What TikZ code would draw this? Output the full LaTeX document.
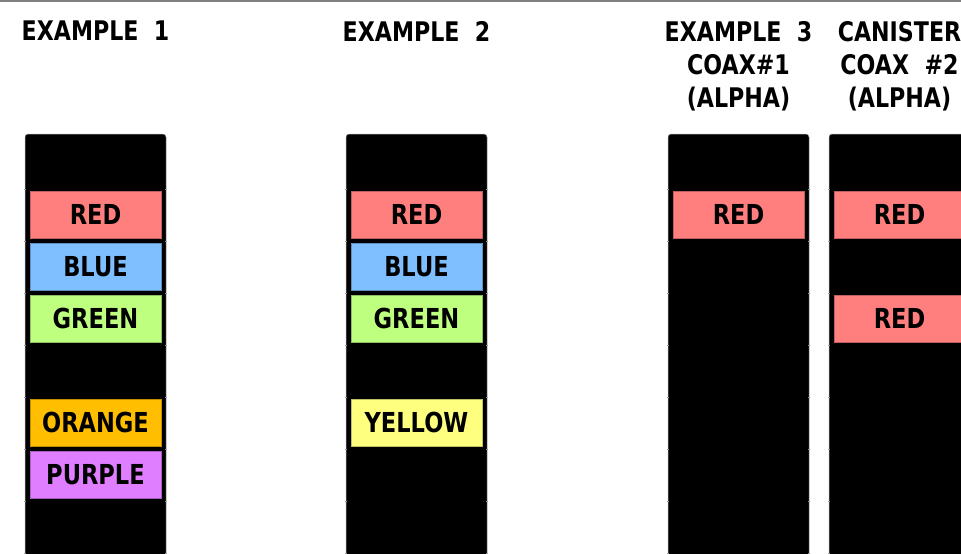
\documentclass[tikz,border=0pt]{standalone}
\usepackage{fontspec}
\setmainfont{DejaVu Sans}[FakeStretch=0.82]
\usetikzlibrary{positioning}
\definecolor{slred}{HTML}{FF7F7F}
\definecolor{slblue}{HTML}{7FBFFF}
\definecolor{slgreen}{HTML}{BFFF7F}
\definecolor{slorange}{HTML}{FFBF00}
\definecolor{slpurple}{HTML}{DF7FFF}
\definecolor{slyellow}{HTML}{FFFF7F}
\tikzset{
  rack/.style={fill=black,draw=gray!70,line width=0.5pt,rounded corners=3pt},
  head/.style={font=\bfseries\fontsize{27}{33}\selectfont,align=center,anchor=north,inner sep=0pt},
  band/.style={draw=#1!75!black,fill=#1,line width=0.6pt,minimum width=131pt,minimum height=47pt,
    inner sep=0pt,outer sep=0pt,font=\bfseries\fontsize{27.5}{27.5}\selectfont},
  tick/.style={gray!80,line width=0.6pt},
}
\begin{document}
\begin{tikzpicture}[x=1pt,y=-1pt]
  \useasboundingbox (0,0) rectangle (961,554);
  \draw[gray,line width=1.5pt] (0,0.75) -- (961,0.75);
  % racks
  \path[rack] (25,134) rectangle (166,570);
  \path[rack] (346,134) rectangle (487,570);
  \path[rack] (668,134) rectangle (809,570);
  \path[rack] (829,134) rectangle (970,570);
  \foreach \cx in {25,166,346,487,668,809,829}
    \foreach \ty in {189,241,...,553}
      \draw[tick] (\cx-1,\ty) -- (\cx+1,\ty);
  % titles
  \node[head] (t1) at (95.5,21) {EXAMPLE~~1};
  \node[head] (t2) at (416.5,21) {EXAMPLE~~2};
  \node[head] (t3) at (738.5,21) {EXAMPLE~~3\\COAX\#1\\(ALPHA)};
  \node[head] (t4) at (899.5,21) {CANISTER\\COAX~~\#2\\(ALPHA)};
  % example 1
  \node[band=slred] (r1) at (95.5,214.5) {RED};
  \node[band=slblue,below=5pt of r1] (b1) {BLUE};
  \node[band=slgreen,below=5pt of b1] (g1) {GREEN};
  \node[band=slorange,below=57pt of g1] (o1) {ORANGE};
  \node[band=slpurple,below=5pt of o1] (p1) {PURPLE};
  % example 2
  \node[band=slred] (r2) at (416.5,214.5) {RED};
  \node[band=slblue,below=5pt of r2] (b2) {BLUE};
  \node[band=slgreen,below=5pt of b2] (g2) {GREEN};
  \node[band=slyellow,below=57pt of g2] (y2) {YELLOW};
  % example 3
  \node[band=slred] (r3) at (738.5,214.5) {RED};
  \node[band=slred] (r4) at (899.5,214.5) {RED};
  \node[band=slred,below=57pt of r4] (r5) {RED};
\end{tikzpicture}
\end{document}
